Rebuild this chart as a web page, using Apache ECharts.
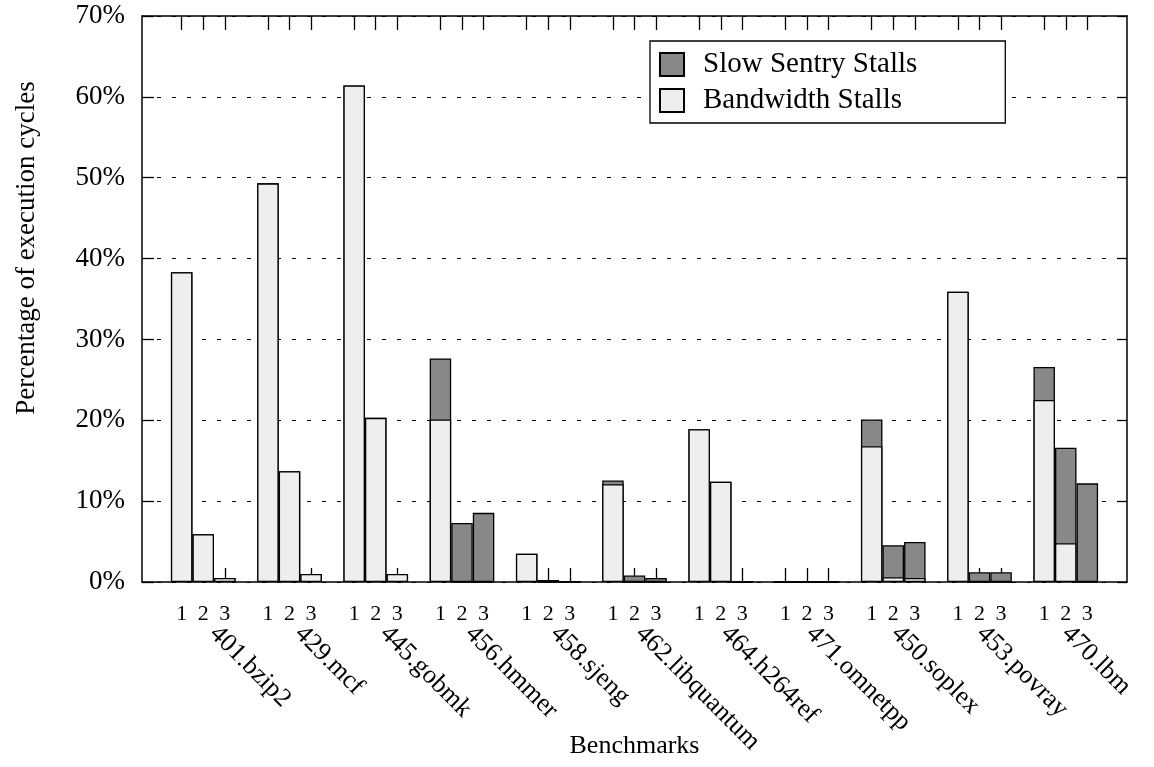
<!DOCTYPE html>
<html>
<head>
<meta charset="utf-8">
<script src="https://cdn.jsdelivr.net/npm/echarts@6/dist/echarts.min.js"></script>
<style>
html,body{margin:0;padding:0;background:#fff;}
#chart{width:1154px;height:767px;}
</style>
</head>
<body>
<div id="chart"></div>
<script>
// ---- data ----
const benchmarks = ['401.bzip2','429.mcf','445.gobmk','456.hmmer','458.sjeng','462.libquantum','464.h264ref','471.omnetpp','450.soplex','453.povray','470.lbm'];
const configLabels = ['1','2','3'];
const seriesNames = ['Slow Sentry Stalls','Bandwidth Stalls'];
// Bandwidth stalls (bottom, light) per configuration
const bandwidth1 = [38.3, 49.3, 61.4, 20.1, 3.5, 12.1, 18.9, 0, 16.8, 35.9, 22.5];
const bandwidth2 = [5.9, 13.7, 20.3, 0, 0, 0, 12.4, 0, 0.6, 0, 4.8];
const bandwidth3 = [0.5, 1.0, 1.0, 0, 0, 0, 0, 0, 0.5, 0, 0];
// Slow sentry stalls (stacked on top, dark) per configuration
const slow1 = [0, 0, 0, 7.55, 0, 0.45, 0, 0, 3.3, 0, 4.1];
const slow2 = [0, 0, 0, 7.3, 0.25, 0.8, 0, 0, 3.95, 1.2, 11.8];
const slow3 = [0, 0, 0, 8.55, 0.1, 0.5, 0, 0, 4.45, 1.2, 12.2];
const yTickValues = [0, 10, 20, 30, 40, 50, 60, 70];

// ---- chart ----
const FONT = "'Liberation Serif', 'Times New Roman', serif";
const bandwidth = [bandwidth1, bandwidth2, bandwidth3];
const slow = [slow1, slow2, slow3];
const slotOffset = [-0.25, 0, 0.25]; // position of config bar inside a group (group units)
const X_MIN = -0.71, X_MAX = 10.71;

const barPositions = [];
const barPosLabel = {};
benchmarks.forEach((b, g) => {
  configLabels.forEach((c, j) => {
    const p = g + slotOffset[j];
    barPositions.push(p);
    barPosLabel[p.toFixed(3)] = c;
  });
});
const namePositions = benchmarks.map((b, g) => g * 0.988 + 0.12);

const series = [];
const common = {
  type: 'bar',
  barWidth: 21.5,
  barGap: '-100%',
  xAxisIndex: 0,
  yAxisIndex: 0,
  emphasis: {disabled: true},
  animation: false
};
for (let j = 0; j < 3; j++) {
  series.push(Object.assign({}, common, {
    name: seriesNames[0],
    itemStyle: {color: '#888888', borderColor: '#000', borderWidth: 1.3},
    data: benchmarks.map((b, g) => [g + slotOffset[j], +(bandwidth[j][g] + slow[j][g]).toFixed(3)])
  }));
}
for (let j = 0; j < 3; j++) {
  series.push(Object.assign({}, common, {
    name: seriesNames[1],
    itemStyle: {color: '#eeeeee', borderColor: '#000', borderWidth: 1.3},
    data: benchmarks.map((b, g) => [g + slotOffset[j], bandwidth[j][g]])
  }));
}

const chart = echarts.init(document.getElementById('chart'), null, {renderer: 'canvas'});
chart.setOption({
  animation: false,
  backgroundColor: '#fff',
  grid: {left: 142, right: 27, top: 16, bottom: 185, containLabel: false},
  legend: {
    data: seriesNames,
    orient: 'vertical',
    left: 650, top: 41,
    padding: [9, 88, 8, 9],
    itemWidth: 24, itemHeight: 23, itemGap: 7,
    icon: 'rect',
    backgroundColor: '#fff',
    borderColor: '#000', borderWidth: 1.3,
    selectedMode: false,
    textStyle: {fontFamily: FONT, fontSize: 29, color: '#000', padding: [0, 0, 0, 14]}
  },
  xAxis: [
    {
      type: 'value', position: 'bottom', min: X_MIN, max: X_MAX,
      name: 'Benchmarks', nameLocation: 'middle', nameGap: 151,
      nameTextStyle: {fontFamily: FONT, fontSize: 26, color: '#000'},
      axisLine: {show: true, onZero: false, lineStyle: {color: '#000', width: 1.5}},
      axisTick: {show: true, inside: true, length: 14, customValues: barPositions, lineStyle: {color: '#000', width: 1.3}},
      axisLabel: {show: true, customValues: barPositions, margin: 21, fontFamily: FONT, fontSize: 22, color: '#000',
        formatter: v => barPosLabel[(+v).toFixed(3)] || ''},
      splitLine: {show: false}
    },
    {
      type: 'value', position: 'top', min: X_MIN, max: X_MAX,
      axisLine: {show: true, onZero: false, lineStyle: {color: '#000', width: 1.5}},
      axisTick: {show: true, inside: true, length: 14, customValues: barPositions, lineStyle: {color: '#000', width: 1.3}},
      axisLabel: {show: false},
      splitLine: {show: false}
    },
    {
      type: 'value', position: 'bottom', offset: 0, min: X_MIN, max: X_MAX,
      axisLine: {show: false}, axisTick: {show: false}, splitLine: {show: false},
      axisLabel: {show: true, customValues: namePositions, rotate: -45, margin: 48, fontFamily: FONT, fontSize: 26, color: '#000',
        formatter: v => benchmarks[Math.round(v)] || ''}
    }
  ],
  yAxis: [
    {
      type: 'value', position: 'left', min: 0, max: 70, interval: 10,
      name: 'Percentage of execution cycles', nameLocation: 'middle', nameGap: 102,
      nameTextStyle: {fontFamily: FONT, fontSize: 27, color: '#000', padding: [0, 0, 0, 102]},
      axisLine: {show: true, onZero: false, lineStyle: {color: '#000', width: 1.5}},
      axisTick: {show: true, inside: true, length: 12, lineStyle: {color: '#000', width: 1.3}},
      axisLabel: {margin: 17, fontFamily: FONT, fontSize: 27, color: '#000', padding: [6, 0, 0, 0], formatter: '{value}%'},
      splitLine: {show: true, lineStyle: {color: '#000', width: 1.2, type: [4, 11]}}
    },
    {
      type: 'value', position: 'right', min: 0, max: 70, interval: 10,
      axisLine: {show: true, onZero: false, lineStyle: {color: '#000', width: 1.5}},
      axisTick: {show: true, inside: true, length: 10, lineStyle: {color: '#000', width: 1.3}},
      axisLabel: {show: false},
      splitLine: {show: false}
    }
  ],
  series: series
});
</script>
</body>
</html>
